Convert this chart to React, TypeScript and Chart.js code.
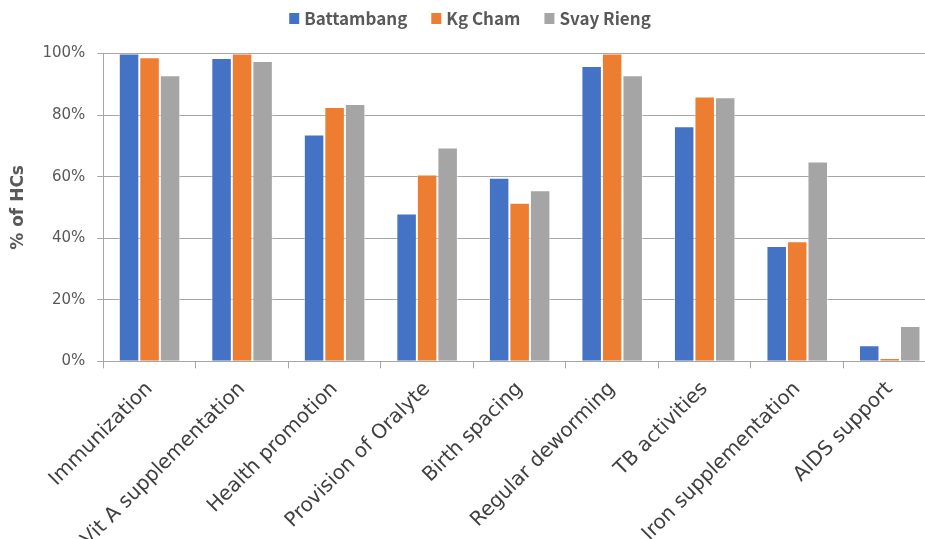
import React, { useEffect, useRef } from "react";
import { Chart, registerables } from "chart.js";

Chart.register(...registerables);

const categories = [
  "Immunization",
  "Vit A supplementation",
  "Health promotion",
  "Provision of Oralyte",
  "Birth spacing",
  "Regular deworming",
  "TB activities",
  "Iron supplementation",
  "AIDS support",
];

const seriesNames = ["Battambang", "Kg Cham", "Svay Rieng"];
const seriesColors = ["#4472C4", "#ED7D31", "#A5A5A5"];

const battambang = [100, 98.5, 73.7, 48.0, 59.6, 95.9, 76.4, 37.5, 5.2];
const kgCham = [98.8, 100, 82.6, 60.7, 51.5, 100, 86.0, 39.0, 1.1];
const svayRieng = [92.9, 97.6, 83.6, 69.5, 55.6, 92.9, 85.8, 64.9, 11.5];

const yMin = 0;
const yMax = 100;
const yStep = 20;
const yTitle = "% of HCs";

const GRID = "#a6a6a6";
const TEXT = "#595959";
const SANS = "'DejaVu Sans', Verdana, sans-serif";

// Legend drawn across the top, centred on the canvas
const topLegend = {
  id: "topLegend",
  afterDraw(chart: any) {
    const { ctx } = chart;
    ctx.save();
    ctx.font = "bold 17px 'Noto Sans CJK JP'";
    const box = 10;
    const gap = 5;
    const spacing = 24;
    const items = chart.data.datasets.map((d: any) => ({
      label: d.label,
      color: d.backgroundColor,
      w: box + gap + ctx.measureText(d.label).width,
    }));
    const total =
      items.reduce((s: number, it: any) => s + it.w, 0) + spacing * (items.length - 1);
    let x = chart.width / 2 - total / 2;
    const baseline = 25;
    items.forEach((it: any) => {
      ctx.fillStyle = it.color;
      ctx.fillRect(x, 13, box, 11);
      ctx.fillStyle = TEXT;
      ctx.textAlign = "left";
      ctx.textBaseline = "alphabetic";
      ctx.fillText(it.label, x + box + gap, baseline);
      x += it.w + spacing;
    });
    ctx.restore();
  },
};

export default function App() {
  const ref = useRef<HTMLCanvasElement>(null);

  useEffect(() => {
    if (!ref.current) return;
    const data = [battambang, kgCham, svayRieng];
    const chart = new Chart(ref.current, {
      type: "bar",
      data: {
        labels: categories,
        datasets: seriesNames.map((name, i) => ({
          label: name,
          data: data[i],
          backgroundColor: seriesColors[i],
          borderColor: "rgba(255,255,255,0.55)",
          borderWidth: 1,
          categoryPercentage: 0.665,
          barPercentage: 1,
        })),
      },
      options: {
        responsive: false,
        animation: false,
        devicePixelRatio: 1,
        layout: { padding: { top: 53.5, left: 0, right: 4, bottom: 0 } },
        plugins: {
          legend: { display: false },
          tooltip: { enabled: false },
        },
        scales: {
          x: {
            afterFit(scale: any) {
              scale.height = 177.7;
            },
            grid: {
              offset: true,
              drawOnChartArea: false,
              drawTicks: true,
              tickLength: 7,
              color: GRID,
            },
            border: { display: true, color: GRID },
            ticks: {
              autoSkip: false,
              minRotation: 45,
              maxRotation: 45,
              padding: 9,
              color: "#404040",
              font: { family: SANS, size: 20 },
            },
          },
          y: {
            min: yMin,
            max: yMax,
            afterFit(scale: any) {
              scale.width = 103.3;
            },
            grid: { color: GRID, tickLength: 6 },
            border: { display: true, color: GRID },
            ticks: {
              stepSize: yStep,
              padding: 12,
              color: TEXT,
              font: { family: SANS, size: 15 },
              callback: (v: any) => `${v}%`,
            },
            title: {
              display: true,
              text: yTitle,
              color: TEXT,
              padding: { top: 8, bottom: 0 },
              font: { family: SANS, size: 17, weight: "bold" },
            },
          },
        },
      },
      plugins: [topLegend],
    });
    return () => chart.destroy();
  }, []);

  return (
    <div
      style={{
        position: "fixed",
        left: 0,
        top: 0,
        width: 925,
        height: 539,
        overflow: "hidden",
        background: "#fff",
      }}
    >
      <canvas ref={ref} width={940} height={539} style={{ display: "block" }} />
    </div>
  );
}
